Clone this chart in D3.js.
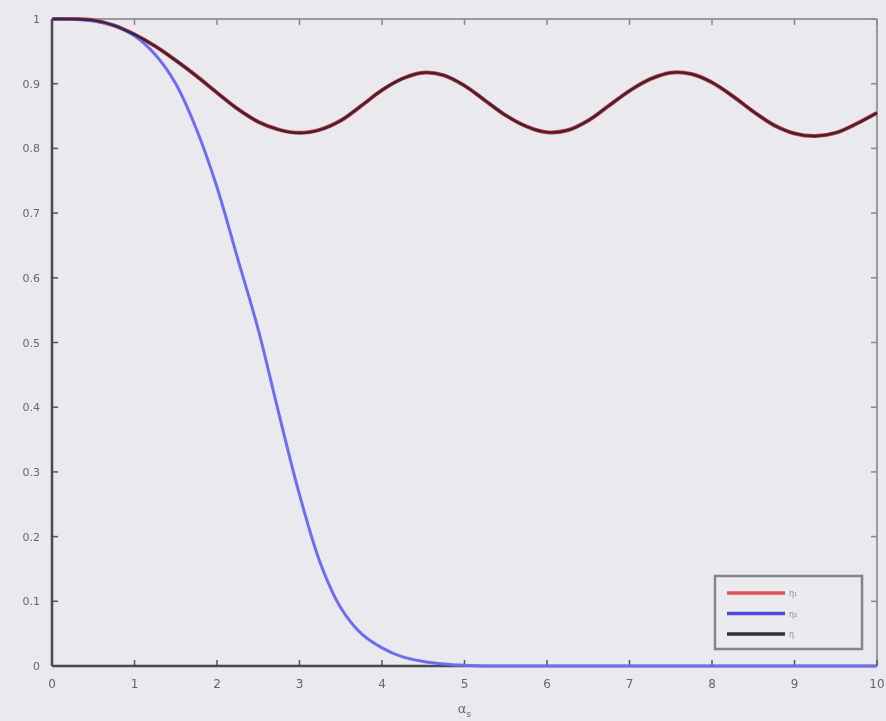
<!DOCTYPE html>
<html>
<head>
<meta charset="utf-8">
<script src="https://cdn.jsdelivr.net/npm/d3@7"></script>
<style>
  body { margin: 0; background: #e9e9ee; }
  svg { display: block; font-family: "DejaVu Sans", sans-serif; }
</style>
</head>
<body>
<svg id="chart"></svg>
<script>
// sample positions along the x axis
const xs = [0, 0.25, 0.5, 0.75, 1, 1.25, 1.5, 1.75, 2, 2.25, 2.5, 2.75, 3, 3.25, 3.5, 3.75, 4,
  4.25, 4.5, 4.75, 5, 5.25, 5.5, 5.75, 6, 6.25, 6.5, 6.75, 7, 7.25, 7.5, 7.75, 8, 8.25, 8.5,
  8.75, 9, 9.25, 9.5, 9.75, 10];

// oscillating curve (red and black lie on top of each other)
const redValues = [1.0, 1.0, 0.998, 0.99, 0.976, 0.958, 0.936, 0.912, 0.886, 0.861, 0.841,
  0.829, 0.824, 0.829, 0.843, 0.866, 0.89, 0.908, 0.917, 0.913, 0.897, 0.874, 0.851, 0.834,
  0.825, 0.828, 0.843, 0.866, 0.889, 0.907, 0.917, 0.915, 0.902, 0.881, 0.857, 0.836, 0.823,
  0.819, 0.824, 0.838, 0.855];
const blackValues = redValues.slice();

// decaying curve
const blueValues = [1.0, 1.0, 0.997, 0.99, 0.974, 0.945, 0.9, 0.83, 0.74, 0.63, 0.52, 0.39,
  0.265, 0.16, 0.09, 0.05, 0.028, 0.014, 0.007, 0.003, 0.001, 0, 0, 0, 0, 0, 0, 0, 0, 0, 0,
  0, 0, 0, 0, 0, 0, 0, 0, 0, 0];

const xTicks = [0, 1, 2, 3, 4, 5, 6, 7, 8, 9, 10];
const yTicks = [0, 0.1, 0.2, 0.3, 0.4, 0.5, 0.6, 0.7, 0.8, 0.9, 1];
const legendLabels = ["η₁", "η₂", "η"];

const width = 886, height = 721;
const margin = { top: 19, right: 9, bottom: 55, left: 52 };
const w = width - margin.left - margin.right;
const h = height - margin.top - margin.bottom;

const svg = d3.select("#chart").attr("width", width).attr("height", height);

// soft blur, the reference is a fuzzy screenshot
const defs = svg.append("defs");
defs.append("filter").attr("id", "soft")
  .append("feGaussianBlur").attr("stdDeviation", 0.7);

const g = svg.append("g")
  .attr("transform", `translate(${margin.left},${margin.top})`)
  .attr("filter", "url(#soft)");

const x = d3.scaleLinear().domain([0, 10]).range([0, w]);
const y = d3.scaleLinear().domain([0, 1]).range([h, 0]);

// top and right box edges
g.append("line").attr("x1", 0).attr("x2", w).attr("y1", 0).attr("y2", 0)
  .attr("stroke", "#9a9a9e").attr("stroke-width", 2);
g.append("line").attr("x1", w).attr("x2", w).attr("y1", 0).attr("y2", h)
  .attr("stroke", "#9a9a9e").attr("stroke-width", 2);

// inward ticks on all four sides
const tickLen = 6;
g.selectAll(".xt").data(xTicks).enter().append("line")
  .attr("x1", d => x(d)).attr("x2", d => x(d)).attr("y1", h).attr("y2", h - tickLen)
  .attr("stroke", "#555").attr("stroke-width", 1.5);
g.selectAll(".xtt").data(xTicks).enter().append("line")
  .attr("x1", d => x(d)).attr("x2", d => x(d)).attr("y1", 0).attr("y2", tickLen)
  .attr("stroke", "#888").attr("stroke-width", 1.5);
g.selectAll(".yt").data(yTicks).enter().append("line")
  .attr("x1", 0).attr("x2", tickLen).attr("y1", d => y(d)).attr("y2", d => y(d))
  .attr("stroke", "#555").attr("stroke-width", 1.5);
g.selectAll(".ytr").data(yTicks).enter().append("line")
  .attr("x1", w).attr("x2", w - tickLen).attr("y1", d => y(d)).attr("y2", d => y(d))
  .attr("stroke", "#888").attr("stroke-width", 1.5);

// tick labels
g.selectAll(".xl").data(xTicks).enter().append("text")
  .attr("x", d => x(d)).attr("y", h + 22)
  .attr("text-anchor", "middle").attr("fill", "#666").style("font-size", "12px")
  .text(d => d);
g.selectAll(".yl").data(yTicks).enter().append("text")
  .attr("x", -12).attr("y", d => y(d) + 4)
  .attr("text-anchor", "end").attr("fill", "#666").style("font-size", "11px")
  .text(d => d);

// axis title
g.append("text").attr("x", w / 2).attr("y", h + 47)
  .attr("text-anchor", "middle").attr("fill", "#666").style("font-size", "13px")
  .text("α").append("tspan").attr("dy", 4).style("font-size", "9px").text("s");

const line = d3.line().x((d, i) => x(xs[i])).y(d => y(d)).curve(d3.curveCatmullRom);

// left and bottom axis lines
g.append("line").attr("x1", 0).attr("x2", 0).attr("y1", 0).attr("y2", h)
  .attr("stroke", "#4a4a4e").attr("stroke-width", 2.5);
g.append("line").attr("x1", 0).attr("x2", w).attr("y1", h).attr("y2", h)
  .attr("stroke", "#4a4a4e").attr("stroke-width", 2.5);

g.append("path").datum(redValues).attr("d", line)
  .attr("fill", "none").attr("stroke", "#d6424e").attr("stroke-width", 4);
g.append("path").datum(blueValues).attr("d", line)
  .attr("fill", "none").attr("stroke", "#6f6cf0").attr("stroke-width", 3);
g.append("path").datum(blackValues).attr("d", line)
  .attr("fill", "none").attr("stroke", "#2a1f2a").attr("stroke-width", 2.6).attr("opacity", 0.85);

// legend
const legendColors = ["#e0505a", "#4b48e0", "#303030"];
const lg = g.append("g").attr("transform", `translate(${715 - margin.left},${576 - margin.top})`);
lg.append("rect").attr("width", 147).attr("height", 73)
  .attr("fill", "#ebebef").attr("stroke", "#858589").attr("stroke-width", 2.5);
legendLabels.forEach((lab, i) => {
  const yy = 17 + i * 20.5;
  lg.append("line").attr("x1", 12).attr("x2", 70).attr("y1", yy).attr("y2", yy)
    .attr("stroke", legendColors[i]).attr("stroke-width", 3.5);
  lg.append("text").attr("x", 74).attr("y", yy + 3)
    .attr("fill", "#888").style("font-size", "8px").text(lab);
});
</script>
</body>
</html>
